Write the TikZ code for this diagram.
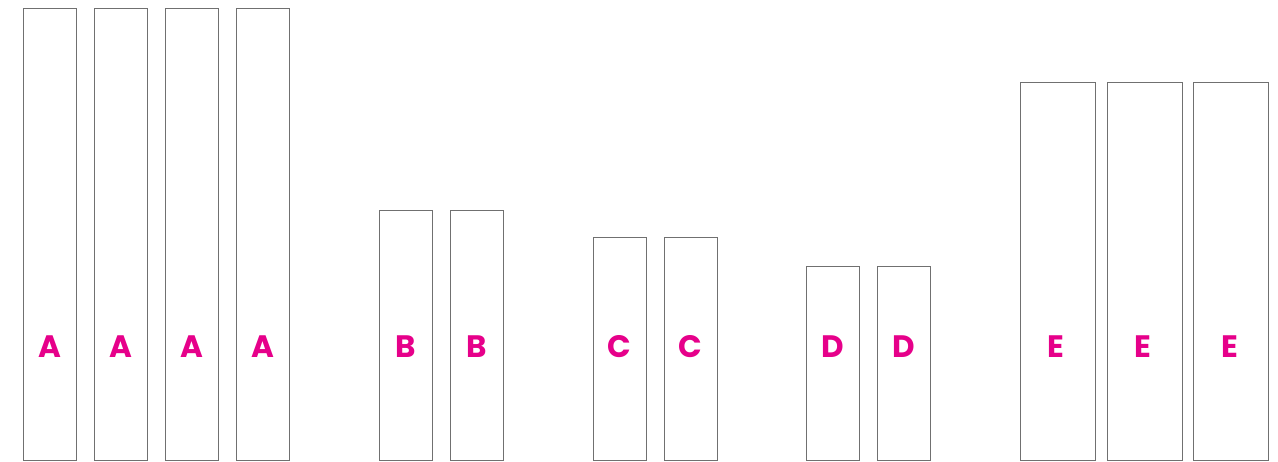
\documentclass[tikz,border=0pt]{standalone}
\usepackage{fontspec}
\newfontfamily\barfont{Poppins}
\usepackage{tikz}
\usetikzlibrary{positioning}
\definecolor{barlabel}{HTML}{E6008A}
\definecolor{barline}{HTML}{707070}

\begin{document}
\begin{tikzpicture}[
    x=1pt, y=1pt,
    bar/.style={draw=barline, line width=1pt, fill=white, anchor=south, inner sep=0pt, minimum width=53pt},
    wide/.style={bar, minimum width=75pt},
    tag/.style={text=barlabel, font=\barfont\bfseries\fontsize{31}{31}\selectfont, inner sep=0pt},
]
\useasboundingbox (0,0) rectangle (1278,462);

% A group
\foreach \x [count=\i] in {49.5,120.5,191.5,263} {
    \node[bar, minimum height=452pt] (a\i) at (\x,1) {};
    \node[tag] (ta\i) at (\x,115) {A};
}

% B group
\foreach \x [count=\i] in {405.5,476.5} {
    \node[bar, minimum height=250pt] (b\i) at (\x,1) {};
    \node[tag] (tb\i) at (\x,115) {B};
}

% C group
\foreach \x [count=\i] in {619.5,690.5} {
    \node[bar, minimum height=223pt] (c\i) at (\x,1) {};
    \node[tag] (tc\i) at (\x,115) {C};
}

% D group
\foreach \x [count=\i] in {832.5,903.5} {
    \node[bar, minimum height=194pt] (d\i) at (\x,1) {};
    \node[tag] (td\i) at (\x,115) {D};
}

% E group (labels sit a bit left of centre)
\foreach \x/\t [count=\i] in {1057.5/1055.5,1144.5/1142.5,1231/1229.5} {
    \node[wide, minimum height=378pt] (e\i) at (\x,1) {};
    \node[tag] (te\i) at (\t,115) {E};
}

\end{tikzpicture}
\end{document}
